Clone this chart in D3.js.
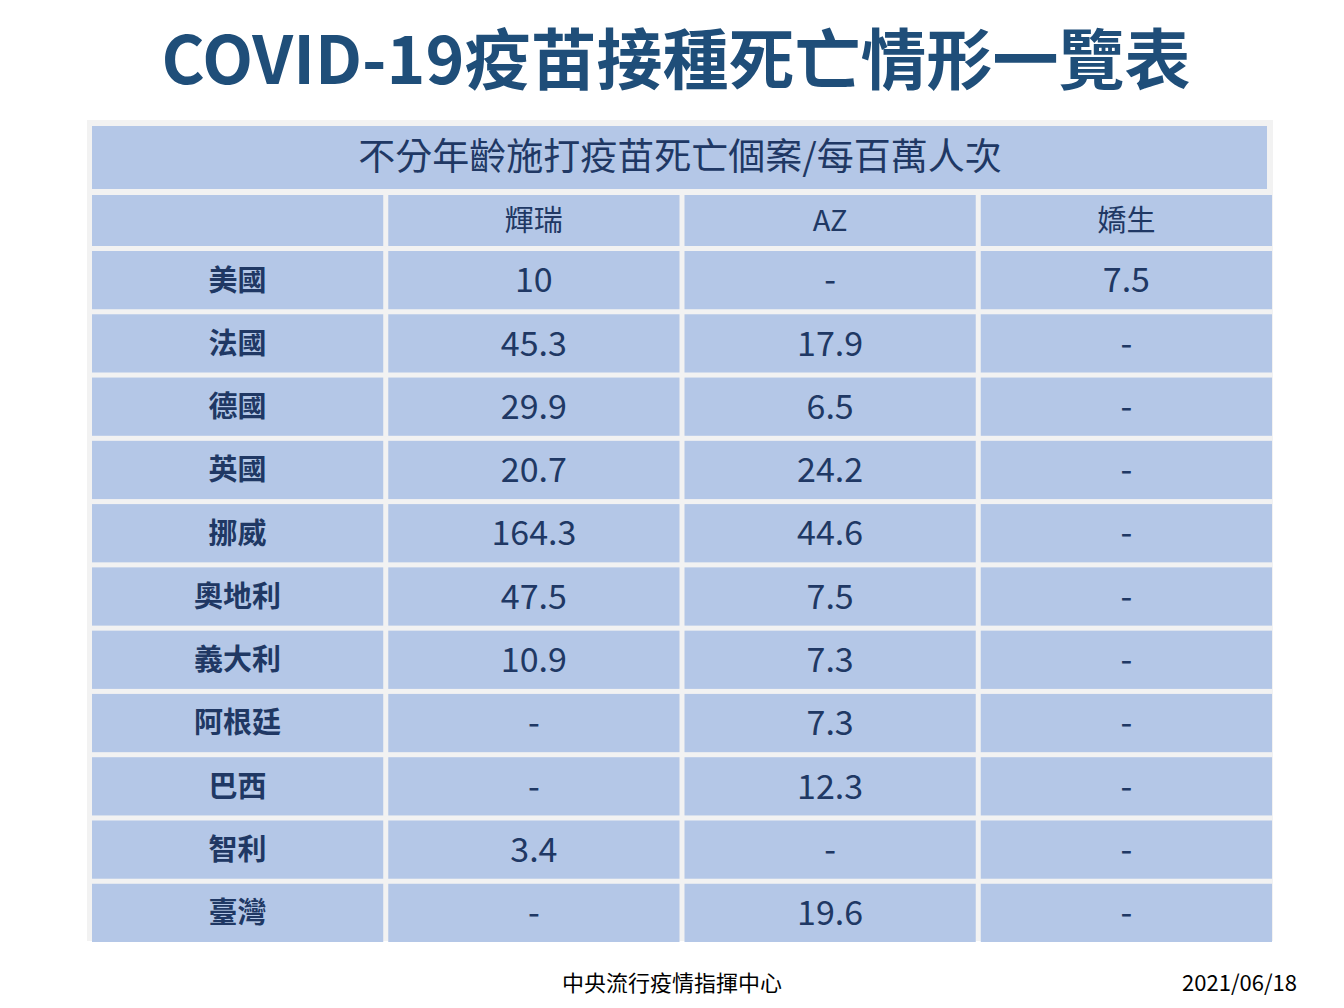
<html>
<head>
<meta charset="utf-8">
<script src="https://d3js.org/d3.v7.min.js"></script>
<style>body{margin:0;background:#fff}</style>
</head>
<body>
<svg width="1344" height="1008"></svg>
<script>
var countries = ["美國","法國","德國","英國","挪威","奧地利","義大利","阿根廷","巴西","智利","臺灣"];
var vaccines = ["輝瑞","AZ","嬌生"];
var pfizer = ["10","45.3","29.9","20.7","164.3","47.5","10.9","-","-","3.4","-"];
var az = ["-","17.9","6.5","24.2","44.6","7.5","7.3","7.3","12.3","-","19.6"];
var jj = ["7.5","-","-","-","-","-","-","-","-","-","-"];

var font = "'Noto Sans CJK TC','Noto Sans',sans-serif";
var ink = "#203864", cell = "#b4c7e7";
var svg = d3.select("svg");

svg.append("text").attr("x",676).attr("y",84).attr("text-anchor","middle")
  .attr("font-family",font).attr("font-weight","bold").attr("font-size",66)
  .attr("fill","#1f4e79").text("COVID-19疫苗接種死亡情形一覽表");

svg.append("rect").attr("x",87).attr("y",120).attr("width",1186).attr("height",821).attr("fill","#f2f2f2");

var cols = ["", ...vaccines];
var x = d3.scaleBand().domain(d3.range(4)).range([92,1272]).paddingInner(5/295);
var y = d3.scaleBand().domain(d3.range(countries.length)).range([251,942]).paddingInner(5/62.8);

// top header
svg.append("rect").attr("x",92).attr("y",126).attr("width",1175).attr("height",63).attr("fill",cell);
svg.append("text").attr("x",680).attr("y",170).attr("text-anchor","middle")
  .attr("font-family",font).attr("font-size",37).attr("fill",ink).text("不分年齡施打疫苗死亡個案/每百萬人次");

// column header
var hg = svg.append("g");
hg.selectAll("rect").data(cols).join("rect")
  .attr("x",(d,i)=>x(i)).attr("y",195).attr("width",x.bandwidth()).attr("height",51).attr("fill",cell);
hg.selectAll("text").data(cols).join("text")
  .attr("x",(d,i)=>x(i)+x.bandwidth()/2).attr("y",231).attr("text-anchor","middle")
  .attr("font-family",font).attr("font-size",29).attr("fill",ink).text(d=>d);

var rows = countries.map((c,i)=>[c,pfizer[i],az[i],jj[i]]);
var rg = svg.selectAll("g.row").data(rows).join("g").attr("class","row")
  .attr("transform",(d,i)=>`translate(0,${y(i)})`);
rg.selectAll("rect").data(d=>d).join("rect")
  .attr("x",(d,i)=>x(i)).attr("width",x.bandwidth()).attr("height",y.bandwidth()).attr("fill",cell);
rg.selectAll("text").data(d=>d).join("text")
  .attr("x",(d,i)=>x(i)+x.bandwidth()/2).attr("y",y.bandwidth()/2)
  .attr("dy","0.36em").attr("text-anchor","middle")
  .attr("font-family",font).attr("fill",ink)
  .attr("font-size",(d,i)=>i===0?29:34).attr("font-weight",(d,i)=>i===0?"bold":"normal")
  .text(d=>d);

svg.append("text").attr("x",672).attr("y",991).attr("text-anchor","middle")
  .attr("font-family",font).attr("font-size",22).attr("fill","#000").text("中央流行疫情指揮中心");
svg.append("text").attr("x",1297).attr("y",991).attr("text-anchor","end")
  .attr("font-family",font).attr("font-size",22).attr("fill","#000").text("2021/06/18");
</script>
</body>
</html>
